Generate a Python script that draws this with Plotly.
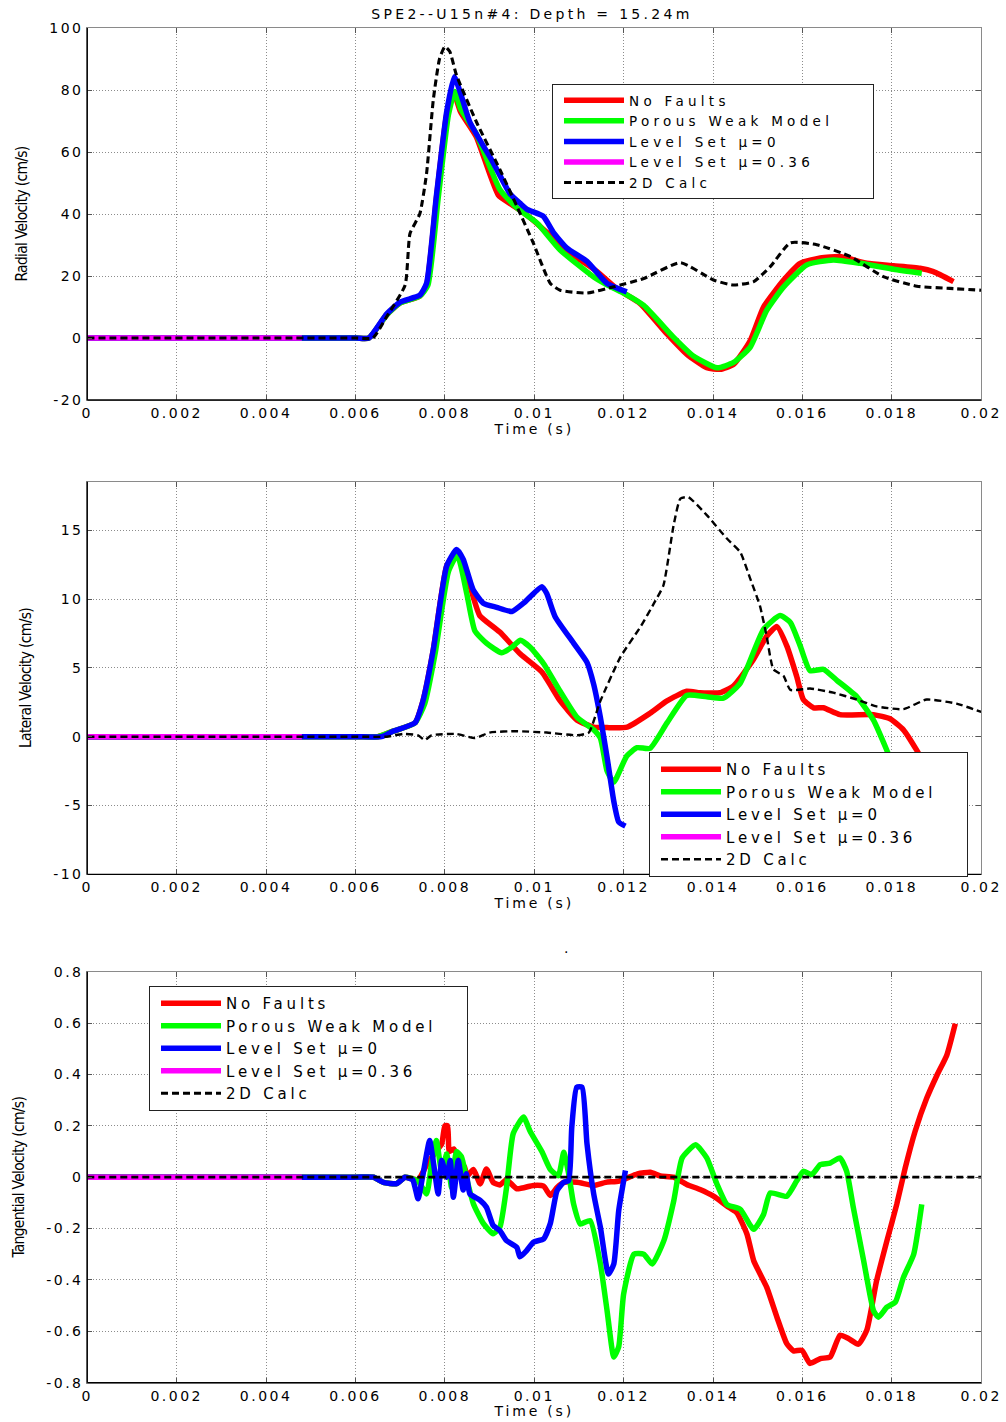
import plotly.graph_objects as go

W, H = 1006, 1422

# ---------------- series data ----------------
series_names = ["No Faults", "Porous Weak Model", "Level Set μ=0", "Level Set μ=0.36", "2D Calc"]
series_colors = ["#ff0000", "#00ff00", "#0000ff", "#ff00ff", "#000000"]

# Level Set mu=0.36 only covers the first part of the record (all panels)
magenta_t = [0, 0.0048]
magenta_v = [0, 0]

# Panel 1: radial velocity (cm/s)
radial_red_t = [0, 0.006, 0.0063, 0.0067, 0.0070, 0.00744, 0.00759, 0.00781, 0.00804, 0.0082, 0.00835, 0.0087,
                0.0092, 0.0095, 0.0098, 0.0100, 0.01021, 0.0106, 0.0110, 0.0114, 0.0118, 0.0120, 0.01237,
                0.01297, 0.01341, 0.01386, 0.01416, 0.01446, 0.01483, 0.01513, 0.01558, 0.01595, 0.0164,
                0.01684, 0.01744, 0.01804, 0.01863, 0.01893, 0.01938]
radial_red_v = [0, 0, 0, 7.5, 11.3, 13.5, 17, 45, 72, 79, 73, 65,
                46, 43, 40, 37.7, 35, 30, 25.5, 21.5, 16.5, 14.5, 11.1,
                1.3, -5.2, -9.6, -10.1, -8.5, -0.9, 10, 18.7, 24.1, 25.8,
                26.3, 24.1, 23.3, 22.5, 21.4, 18.2]

radial_green_t = [0, 0.006, 0.0063, 0.0067, 0.0070, 0.00744, 0.00762, 0.00785, 0.00808, 0.00822, 0.00835, 0.0087,
                  0.00923, 0.00961, 0.01006, 0.01058, 0.01133, 0.01178, 0.0120, 0.01245, 0.01312, 0.01356,
                  0.01409, 0.01446, 0.01483, 0.0152, 0.01558, 0.0161, 0.01669, 0.01729, 0.01804, 0.01867]
radial_green_v = [0, 0, 0, 7.5, 11.3, 13.5, 17, 45, 72, 79.5, 74, 66,
                  47.9, 42, 37.1, 28.4, 19.7, 16, 14.5, 10.5, 0.2, -5.8,
                  -9.6, -7.9, -3, 8.9, 16.5, 23.6, 25.2, 24.1, 22.2, 20.9]

radial_blue_t = [0, 0.006, 0.0063, 0.0067, 0.0070, 0.00744, 0.00759, 0.00781, 0.00804, 0.00821, 0.00835, 0.00856,
                 0.00908, 0.00946, 0.00968, 0.00984, 0.0102, 0.01043, 0.01073, 0.01118, 0.01163, 0.01207]
radial_blue_v = [0, 0, 0, 7.8, 11.6, 13.8, 17.6, 45.8, 72.9, 84.3, 79, 69.6,
                 56.6, 46.5, 43.5, 41.5, 39.3, 34, 29, 24.7, 17.6, 14.9]

radial_2d_t = [0, 0.006, 0.00639, 0.00669, 0.00711, 0.00722, 0.00744, 0.00759, 0.00774, 0.00788, 0.0080, 0.00811,
               0.00826, 0.00871, 0.00923, 0.00961, 0.00998, 0.01036, 0.01058, 0.01118, 0.01178, 0.01245,
               0.01327, 0.01401, 0.01446, 0.01491, 0.01528, 0.01573, 0.01632, 0.01707, 0.01781, 0.01856,
               0.0193, 0.0200]
radial_2d_v = [0, 0, 0, 6.7, 17, 33.7, 40.1, 53, 76.7, 90, 94, 92.4,
               84.8, 69.6, 54.4, 42.5, 30.6, 17.6, 15.4, 14.5, 16.5, 19.2,
               24.3, 18.7, 17.1, 18.2, 23, 30.7, 30.1, 26.3, 19.8, 16.7,
               16.0, 15.4]

# Panel 2: lateral velocity (cm/s)
lateral_red_t = [0, 0.006, 0.0065, 0.00684, 0.00733, 0.00751, 0.00774, 0.00804, 0.00826, 0.00845, 0.00863, 0.00878,
                 0.00923, 0.00969, 0.01017, 0.01058, 0.01096, 0.01133, 0.01163, 0.01208, 0.01259, 0.01297,
                 0.01341, 0.01371, 0.01416, 0.01446, 0.0149, 0.0152, 0.01543, 0.01565, 0.01587, 0.01602,
                 0.01625, 0.01647, 0.01684, 0.01759, 0.01796, 0.01826, 0.01856, 0.0189]
lateral_red_v = [0, 0, 0, 0.4, 1.0, 2.6, 6.3, 12.4, 13.4, 12.2, 10.2, 8.8,
                 7.6, 6.0, 4.7, 2.6, 1.2, 0.7, 0.66, 0.7, 1.7, 2.6,
                 3.3, 3.2, 3.2, 3.7, 5.6, 7.3, 8.0, 6.6, 4.4, 2.7,
                 2.1, 2.1, 1.6, 1.6, 1.3, 0.5, -1.0, -3.0]

lateral_green_t = [0, 0.006, 0.0065, 0.00684, 0.00733, 0.00755, 0.00778, 0.00808, 0.00828, 0.00849, 0.00867, 0.00893,
                   0.00927, 0.0095, 0.00969, 0.00991, 0.01021, 0.01058, 0.01096, 0.01133, 0.01148, 0.01163,
                   0.01178, 0.01207, 0.0123, 0.01259, 0.01297, 0.01341, 0.01386, 0.01423, 0.01461, 0.01513,
                   0.0155, 0.01573, 0.01595, 0.01617, 0.01647, 0.01677, 0.01722, 0.01759, 0.01789, 0.0182]
lateral_green_v = [0, 0, 0, 0.4, 1.0, 2.4, 6.0, 12.0, 13.2, 10.4, 7.7, 6.8,
                   6.1, 6.5, 7.0, 6.5, 5.3, 3.3, 1.4, 0.5, -0.1, -2.5,
                   -3.3, -1.4, -0.8, -0.85, 1.0, 3.0, 2.9, 2.8, 3.9, 7.8,
                   8.8, 8.3, 6.6, 4.8, 4.9, 4.1, 2.9, 1.2, -1.0, -3.5]

lateral_blue_t = [0, 0.006, 0.00658, 0.00684, 0.00733, 0.00751, 0.00774, 0.00804, 0.00826, 0.00841, 0.00863, 0.00886,
                  0.00916, 0.0095, 0.00976, 0.01017, 0.01028, 0.01047, 0.01088, 0.01118, 0.01133, 0.01148,
                  0.01163, 0.01178, 0.01189, 0.01204]
lateral_blue_v = [0, 0, 0, 0.4, 1.0, 2.6, 6.3, 12.4, 13.6, 12.9, 10.7, 9.7,
                  9.4, 9.1, 9.7, 10.9, 10.4, 8.7, 6.8, 5.4, 3.8, 1.4,
                  -1.5, -4.7, -6.2, -6.5]

lateral_2d_t = [0, 0.006, 0.0067, 0.00707, 0.0074, 0.00755, 0.0077, 0.00826, 0.00867, 0.0090, 0.0096, 0.01028,
                0.01096, 0.01122, 0.01148, 0.01193, 0.01238, 0.01268, 0.01289, 0.01312, 0.01327, 0.01345,
                0.01386, 0.01431, 0.01461, 0.01483, 0.01505, 0.0152, 0.01535, 0.01558, 0.01573, 0.01617,
                0.01669, 0.01722, 0.01766, 0.01826, 0.01878, 0.01945, 0.0200]
lateral_2d_v = [0, 0, 0, 0.2, 0.1, -0.25, 0.1, 0.2, -0.1, 0.3, 0.4, 0.3,
                0.1, 0.3, 2.6, 5.8, 8.0, 9.7, 11.0, 15.4, 17.3, 17.4,
                16.1, 14.4, 13.4, 11.5, 9.5, 7.3, 4.9, 4.4, 3.4, 3.5,
                3.2, 2.7, 2.2, 2.0, 2.7, 2.4, 1.8]

# Panel 3: tangential velocity (cm/s)
tangential_red_t = [0, 0.006, 0.0064, 0.00662, 0.00692, 0.00711, 0.0074, 0.0076, 0.0078, 0.00793, 0.0080, 0.00806,
                    0.0081, 0.0082, 0.00834, 0.00844, 0.0085, 0.00864, 0.00879, 0.00893, 0.00908, 0.00923,
                    0.00938, 0.00961, 0.00998, 0.01021, 0.01036, 0.01051, 0.01066, 0.01096, 0.01133, 0.0116,
                    0.0119, 0.01231, 0.0126, 0.01282, 0.01312, 0.01341, 0.01371, 0.01401, 0.01431, 0.01453,
                    0.01476, 0.01491, 0.0152, 0.01543, 0.01565, 0.0158, 0.01599, 0.01617, 0.0164, 0.01662,
                    0.01684, 0.01703, 0.01725, 0.01744, 0.01766, 0.01789, 0.01811, 0.0183, 0.01852, 0.01878,
                    0.01901, 0.01923, 0.01942]
tangential_red_v = [0, 0, 0, -0.02, -0.025, 0, -0.01, 0.05, 0.1, 0.13, 0.2, 0.2,
                    0.1, 0.11, 0.065, 0.04, 0.005, 0.03, -0.026, 0.032, -0.02, -0.03,
                    -0.01, -0.045, -0.032, -0.035, -0.071, -0.04, -0.02, -0.02, -0.032, -0.02,
                    -0.015, 0.013, 0.019, 0.005, 0.0, -0.028, -0.048, -0.074, -0.112, -0.138,
                    -0.222, -0.325, -0.428, -0.545, -0.648, -0.676, -0.674, -0.725, -0.706, -0.70,
                    -0.615, -0.628, -0.65, -0.596, -0.403, -0.248, -0.106, 0.036, 0.178, 0.307,
                    0.397, 0.475, 0.598]

tangential_green_t = [0, 0.006, 0.0064, 0.00662, 0.00692, 0.00711, 0.0074, 0.00759, 0.0077, 0.00781, 0.00793, 0.00804,
                      0.00815, 0.00826, 0.00837, 0.00848, 0.00864, 0.00886, 0.00908, 0.00923, 0.00938, 0.00953,
                      0.00976, 0.00991, 0.01017, 0.01036, 0.01054, 0.01066, 0.01077, 0.01088, 0.01103, 0.01125,
                      0.01148, 0.01163, 0.01178, 0.01189, 0.0120, 0.01223, 0.01245, 0.01264, 0.0129, 0.01312,
                      0.01331, 0.01361, 0.01386, 0.01409, 0.01431, 0.01461, 0.01491, 0.01513, 0.01528, 0.01565,
                      0.01587, 0.01602, 0.01621, 0.0164, 0.01662, 0.01684, 0.01699, 0.01714, 0.01737, 0.01759,
                      0.0177, 0.01789, 0.01808, 0.01826, 0.01849, 0.01867]
tangential_green_v = [0, 0, 0, -0.02, -0.025, 0, -0.015, -0.065, 0.05, 0.143, 0.02, 0.09,
                      -0.04, 0.1, 0.08, 0.0, -0.104, -0.18, -0.22, -0.195, -0.04, 0.17,
                      0.234, 0.178, 0.10, 0.03, 0.006, 0.097, 0.013, -0.104, -0.182, -0.169,
                      -0.338, -0.52, -0.70, -0.66, -0.455, -0.30, -0.30, -0.338, -0.247, -0.093,
                      0.075, 0.126, 0.075, -0.028, -0.106, -0.125, -0.203, -0.145, -0.061, -0.074,
                      -0.015, 0.023, 0.01, 0.049, 0.055, 0.075, 0.023, -0.119, -0.325, -0.519,
                      -0.545, -0.506, -0.486, -0.39, -0.30, -0.106]

tangential_blue_t = [0, 0.006, 0.0064, 0.00662, 0.00692, 0.00711, 0.00728, 0.0074, 0.0075, 0.00766, 0.00775, 0.00785,
                     0.00793, 0.00804, 0.00812, 0.00819, 0.0083, 0.00841, 0.00848, 0.00856, 0.00879, 0.00893,
                     0.00908, 0.00923, 0.00938, 0.00961, 0.00968, 0.00983, 0.00998, 0.01021, 0.01036, 0.01051,
                     0.01066, 0.01077, 0.01084, 0.01095, 0.01107, 0.01118, 0.01133, 0.01148, 0.01166, 0.01178,
                     0.01189, 0.01204]
tangential_blue_v = [0, 0, 0, -0.02, -0.025, 0, -0.01, -0.084, 0.0, 0.143, 0.05, -0.065,
                     0.065, 0.0, 0.065, -0.078, 0.065, -0.05, 0.013, -0.065, -0.09, -0.117,
                     -0.188, -0.208, -0.247, -0.273, -0.31, -0.286, -0.253, -0.24, -0.18, -0.052,
                     -0.02, -0.013, 0.195, 0.35, 0.35, 0.13, -0.065, -0.195, -0.377, -0.338,
                     -0.13, 0.026]

tangential_2d_t = [0, 0.02]
tangential_2d_v = [0, 0]

# ---------------- axes ----------------
time_ticks = [0, 0.002, 0.004, 0.006, 0.008, 0.010, 0.012, 0.014, 0.016, 0.018, 0.020]
time_labels = ["0", "0.002", "0.004", "0.006", "0.008", "0.01", "0.012", "0.014", "0.016", "0.018", "0.02"]

radial_ticks = [-20, 0, 20, 40, 60, 80, 100]
radial_labels = ["-20", "0", "20", "40", "60", "80", "100"]
lateral_ticks = [-10, -5, 0, 5, 10, 15]
lateral_labels = ["-10", "-5", "0", "5", "10", "15"]
tangential_ticks = [-0.8, -0.6, -0.4, -0.2, 0, 0.2, 0.4, 0.6, 0.8]
tangential_labels = ["-0.8", "-0.6", "-0.4", "-0.2", "0", "0.2", "0.4", "0.6", "0.8"]

panel_titles = ["Radial Velocity (cm/s)", "Lateral Velocity (cm/s)", "Tangential Velocity (cm/s)"]
main_title = "SPE2--U15n#4: Depth = 15.24m"

WIDE_FONT = "DejaVu Sans, Liberation Sans, sans-serif"
NARROW_FONT = "Liberation Sans Narrow, DejaVu Sans Condensed, Liberation Sans, sans-serif"
NBSP = "\u00a0"


def wide(s, sp):
    return f'<span style="letter-spacing:{sp}px">{s}</span>'


panels = [
    dict(series=[(radial_red_t, radial_red_v), (radial_green_t, radial_green_v),
                 (radial_blue_t, radial_blue_v), (magenta_t, magenta_v), (radial_2d_t, radial_2d_v)],
         yrange=[-20, 100], yticks=radial_ticks, ylabels=radial_labels,
         top=28, bottom=400, dashw=3.1, legend="legend", legpos=(552, 84),
         legfont=13.5, legsp=4.3, pad=4),
    dict(series=[(lateral_red_t, lateral_red_v), (lateral_green_t, lateral_green_v),
                 (lateral_blue_t, lateral_blue_v), (magenta_t, magenta_v), (lateral_2d_t, lateral_2d_v)],
         yrange=[-10, 18.53], yticks=lateral_ticks, ylabels=lateral_labels,
         top=481.7, bottom=874.3, dashw=2.4, legend="legend2", legpos=(649, 752),
         legfont=15, legsp=3.8, pad=3),
    dict(series=[(tangential_red_t, tangential_red_v), (tangential_green_t, tangential_green_v),
                 (tangential_blue_t, tangential_blue_v), (magenta_t, magenta_v),
                 (tangential_2d_t, tangential_2d_v)],
         yrange=[-0.8, 0.8], yticks=tangential_ticks, ylabels=tangential_labels,
         top=971.7, bottom=1382.7, dashw=2.8, legend="legend3", legpos=(149, 986),
         legfont=15, legsp=3.8, pad=3),
]

X0, X1 = 87.3, 981.2

fig = go.Figure()
layout = dict(
    width=W, height=H, margin=dict(l=0, r=0, t=0, b=0),
    paper_bgcolor="white", plot_bgcolor="white", template="none",
    font=dict(family=WIDE_FONT, color="black"),
    shapes=[], annotations=[],
)

for i, p in enumerate(panels):
    k = "" if i == 0 else str(i + 1)
    xa, ya = "x" + k, "y" + k
    for j, (t, v) in enumerate(p["series"]):
        is_dash = j == 4
        label = series_names[j]
        if j == 1:
            # keeps some room at the right edge of the legend box
            label = label + NBSP * p["pad"]
        fig.add_trace(go.Scatter(
            x=t, y=v, mode="lines", xaxis=xa, yaxis=ya,
            name=wide(label, p["legsp"]),
            legend=p["legend"],
            line=dict(color=series_colors[j],
                      width=p["dashw"] if is_dash else 5.5,
                      dash="7px,4px" if is_dash else "solid",
                      shape="spline", smoothing=0.5),
        ))
    common = dict(showgrid=True, gridcolor="#8c8c8c", griddash="1px,2px", gridwidth=1,
                  zeroline=False, showline=True, linecolor="#8a8a8a", linewidth=1,
                  mirror="ticks", ticks="inside", ticklen=5, tickcolor="#555",
                  automargin=False, tickfont=dict(family=WIDE_FONT, size=14, color="black"))
    layout["xaxis" + k] = dict(
        common, domain=[X0 / W, X1 / W], anchor=ya, range=[0, 0.02],
        tickvals=time_ticks, ticktext=[wide(s, 2.5) for s in time_labels],
        title=dict(text=wide("Time (s)", 2.8), standoff=0,
                   font=dict(family=WIDE_FONT, size=14, color="black")),
    )
    layout["yaxis" + k] = dict(
        common, domain=[1 - p["bottom"] / H, 1 - p["top"] / H], anchor=xa, range=p["yrange"],
        tickvals=p["yticks"], ticktext=[wide(s, 2.5) for s in p["ylabels"]],
        title=dict(text=wide(panel_titles[i], -0.7), standoff=17,
                   font=dict(family=NARROW_FONT, size=15.5, color="black")),
    )
    # dark left and bottom axis lines
    layout["shapes"].append(dict(type="line", xref=xa + " domain", yref=ya + " domain",
                                 x0=0, x1=0, y0=0, y1=1, line=dict(color="black", width=1.3)))
    layout["shapes"].append(dict(type="line", xref=xa + " domain", yref=ya + " domain",
                                 x0=0, x1=1, y0=0, y1=0, line=dict(color="black", width=1.3)))
    lx, ly = p["legpos"]
    layout[p["legend"]] = dict(
        x=lx / W, y=1 - ly / H, xanchor="left", yanchor="top",
        bgcolor="white", bordercolor="#222", borderwidth=1,
        font=dict(family=WIDE_FONT, size=p["legfont"], color="black"),
        itemwidth=60, tracegroupgap=0, traceorder="normal", indentation=6,
    )

layout["title"] = dict(text=wide(main_title, 3.3), x=532 / W, xanchor="center",
                       y=1 - 14 / H, yanchor="middle", yref="paper",
                       font=dict(family=WIDE_FONT, size=14, color="black"))
# stray title mark above the third panel
layout["annotations"].append(dict(text=".", x=566 / W, y=1 - 958 / H, xref="paper", yref="paper",
                                  showarrow=False, font=dict(size=14, color="black")))

fig.update_layout(**layout)
fig.write_html("out.html")
